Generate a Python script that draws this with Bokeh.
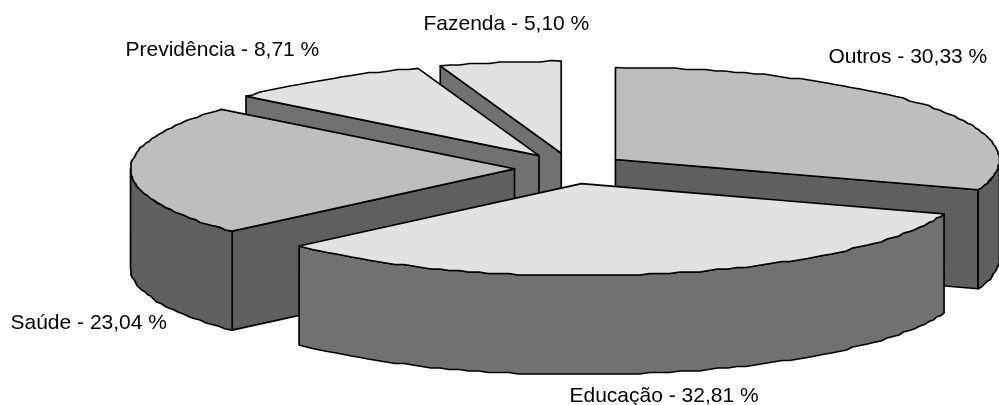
import math
from bokeh.plotting import figure
from bokeh.models import ColumnDataSource
from bokeh.core.properties import value
from bokeh.embed import file_html
from bokeh.resources import INLINE

# Data (clockwise from 12 o'clock)
categories = ["Outros", "Educação", "Saúde", "Previdência", "Fazenda"]
shares = [30.33, 32.81, 23.04, 8.71, 5.10]
top_colors = ["#BEBEBE", "#E2E2E2", "#BEBEBE", "#E2E2E2", "#E2E2E2"]
side_colors = ["#5F5F5F", "#717171", "#5F5F5F", "#717171", "#717171"]

# Layout of the projected pie, in pixels
W, H = 999, 405
CX, CY = 569.6, 168.0
RX, RY = 384.0, 92.0
DEPTH = 99.0
EXPLODE_X, EXPLODE_Y = 55.6, 15.5
GRID_X, GRID_Y = 1.5, 1.5
STEP_DEG = 1.5
DRAW_ORDER = [4, 3, 2, 0, 1]
LABEL_POS = {"Outros": (828, 55), "Educação": (569, 394), "Saúde": (10, 321),
             "Previdência": (125, 48), "Fazenda": (423, 22)}
FONT_PX = 21


def fmt(v):
    return f"{v:.2f}".replace(".", ",")


def arc(ax, ay, a0, a1):
    n = max(2, int(abs(a1 - a0) / STEP_DEG))
    pts = []
    for i in range(n + 1):
        a = math.radians(a0 + (a1 - a0) * i / n)
        x = ax + RX * math.sin(a)
        y = ay - RY * math.cos(a)
        if 0 < i < n:  # stair-stepped outline, as in the low-resolution original
            x = round(x / GRID_X) * GRID_X
            y = round(y / GRID_Y) * GRID_Y
        pts.append((x, y))
    return pts


total = sum(shares)
starts, acc = [], 0.0
for s in shares:
    starts.append(acc)
    acc += s / total * 360.0

xs, ys, fills = [], [], []


def add(points, color):
    xs.append([q[0] for q in points])
    ys.append([q[1] for q in points])
    fills.append(color)


for i in DRAW_ORDER:
    a0 = starts[i]
    a1 = a0 + shares[i] / total * 360.0
    mid = math.radians((a0 + a1) / 2)
    ax = CX + EXPLODE_X * math.sin(mid)
    ay = CY - EXPLODE_Y * math.cos(mid)
    top = arc(ax, ay, a0, a1)
    side = side_colors[i]
    # radial cut faces turned towards the viewer
    if math.sin(math.radians(a0)) < -1e-9:
        e = top[0]
        add([(ax, ay), e, (e[0], e[1] + DEPTH), (ax, ay + DEPTH)], side)
    if math.sin(math.radians(a1)) > 1e-9:
        e = top[-1]
        add([(ax, ay), e, (e[0], e[1] + DEPTH), (ax, ay + DEPTH)], side)
    # outer wall (front half of the rim)
    w0, w1 = max(a0, 90.0), min(a1, 270.0)
    if w1 > w0:
        rim = arc(ax, ay, w0, w1)
        add(rim + [(q[0], q[1] + DEPTH) for q in reversed(rim)], side)
    # top face
    add([(ax, ay)] + top, top_colors[i])

p = figure(width=W, height=H, x_range=(0, W), y_range=(H, 0),
           output_backend="svg", toolbar_location=None, min_border=0,
           outline_line_color=None, background_fill_color="white",
           border_fill_color="white")
p.axis.visible = False
p.xgrid.visible = False
p.ygrid.visible = False
p.styles = {"position": "fixed", "left": "0px", "top": "0px"}

p.patches(xs="xs", ys="ys", fill_color="fill", line_color="#000000", line_width=1.7,
          line_join="round", source=ColumnDataSource(dict(xs=xs, ys=ys, fill=fills)))

labels = [f"{c} - {fmt(v)} %" for c, v in zip(categories, shares)]
p.text(x=[LABEL_POS[c][0] for c in categories], y=[LABEL_POS[c][1] for c in categories],
       text=labels, text_font=value("Liberation Sans"), text_font_size=f"{FONT_PX}px",
       text_color="#000000", text_align="left", text_baseline="middle")

open("out.html", "w").write(file_html(p, INLINE))
